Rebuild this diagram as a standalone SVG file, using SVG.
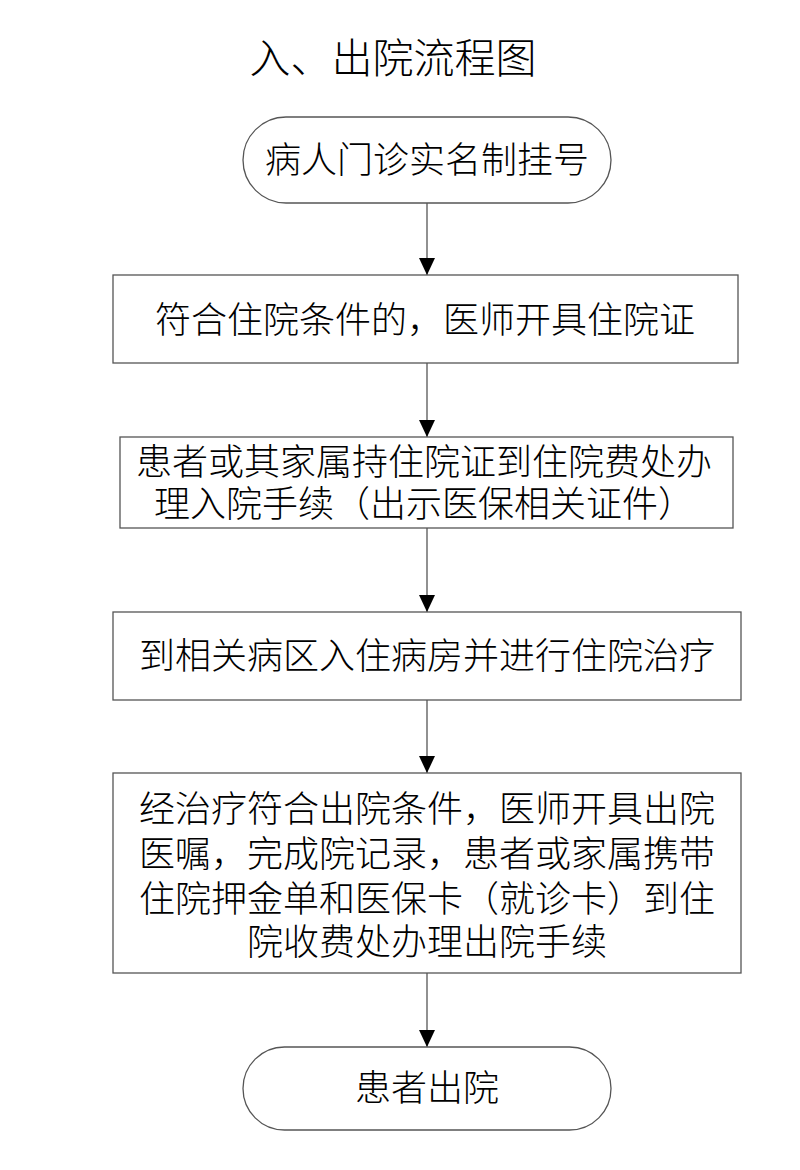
<svg xmlns="http://www.w3.org/2000/svg" width="800" height="1170" viewBox="0 0 800 1170">
<style>
.n{fill:#fff;stroke:#555;stroke-width:1.3}
.t{font-family:"Liberation Serif","Noto Sans CJK SC","Noto Sans CJK JP",serif;font-size:36px;fill:#000;text-anchor:middle;font-weight:300}
.e{stroke:#555;stroke-width:1.3;fill:none}
</style>
<defs>
<marker id="a" markerUnits="userSpaceOnUse" markerWidth="18" markerHeight="16" refX="17" refY="8" orient="auto" viewBox="0 0 18 16">
<path d="M0,0 L17,8 L0,16 Z" fill="#000"/>
</marker>
</defs>
<rect width="800" height="1170" fill="#fff"/>
<text x="393" y="73" class="t" style="font-size:41px">入、出院流程图</text>
<g id="connectors">
<line class="e" x1="427" y1="203" x2="427" y2="275" marker-end="url(#a)"/>
<line class="e" x1="427" y1="363" x2="427" y2="437" marker-end="url(#a)"/>
<line class="e" x1="427" y1="528" x2="427" y2="612" marker-end="url(#a)"/>
<line class="e" x1="427" y1="700" x2="427" y2="773" marker-end="url(#a)"/>
<line class="e" x1="427" y1="973" x2="427" y2="1047" marker-end="url(#a)"/>
</g>
<g id="n1">
<rect class="n" x="243" y="117" width="368" height="86" rx="43" ry="43"/>
<text class="t" x="427" y="173">病人门诊实名制挂号</text>
</g>
<g id="n2">
<rect class="n" x="113" y="275" width="625" height="88"/>
<text class="t" x="425" y="333">符合住院条件的，医师开具住院证</text>
</g>
<g id="n3">
<rect class="n" x="120" y="437" width="613" height="91"/>
<text class="t" x="424" y="475">患者或其家属持住院证到住院费处办</text>
<text class="t" x="424" y="517">理入院手续（出示医保相关证件）</text>
</g>
<g id="n4">
<rect class="n" x="113" y="612" width="628" height="88"/>
<text class="t" x="427" y="669">到相关病区入住病房并进行住院治疗</text>
</g>
<g id="n5">
<rect class="n" x="113" y="773" width="628" height="200"/>
<text class="t" x="427" y="822">经治疗符合出院条件，医师开具出院</text>
<text class="t" x="427" y="867">医嘱，完成院记录，患者或家属携带</text>
<text class="t" x="427" y="912">住院押金单和医保卡（就诊卡）到住</text>
<text class="t" x="427" y="955">院收费处办理出院手续</text>
</g>
<g id="n6">
<rect class="n" x="243" y="1047" width="368" height="83" rx="41.5" ry="41.5"/>
<text class="t" x="427" y="1101">患者出院</text>
</g>
</svg>
